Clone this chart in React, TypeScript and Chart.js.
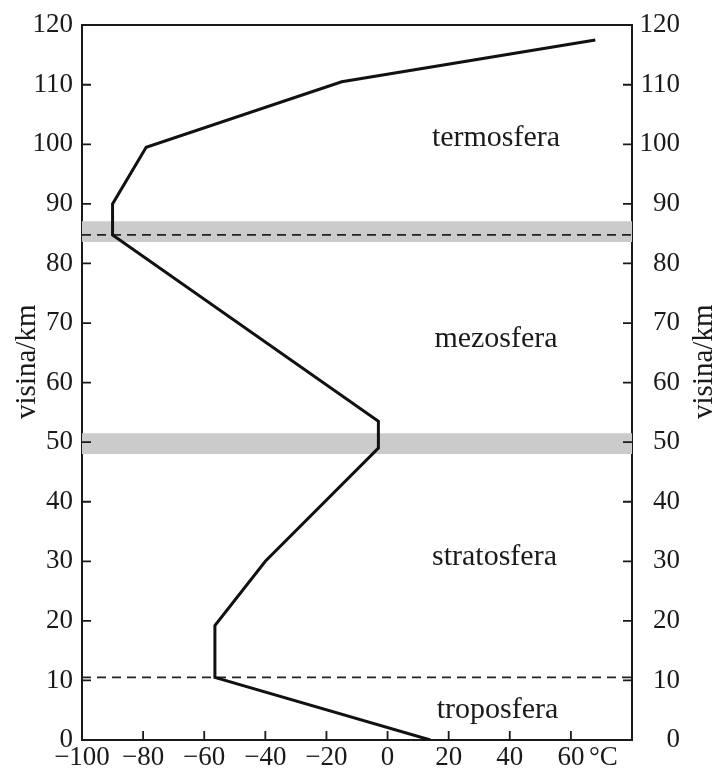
import React, { useEffect, useRef } from 'react';
import { Chart, registerables } from 'chart.js';

Chart.register(...registerables);

// Temperature profile of the atmosphere (°C vs km)
const temperature = [14, -56.5, -56.5, -40, -3, -3, -90, -90, -79, -15, 68];
const altitude = [0, 10.5, 19.2, 30, 49, 53.5, 84.8, 90, 99.5, 110.5, 117.5];

// Boundaries
const dashedAltitudes = [10.5, 84.8];
const bandLower = [48, 83.6];
const bandUpper = [51.5, 87.1];

// Axes
const xMin = -100;
const xMax = 80;
const yMin = 0;
const yMax = 120;
const xTicks = [-100, -80, -60, -40, -20, 0, 20, 40, 60, 80];
const yTicks = [0, 10, 20, 30, 40, 50, 60, 70, 80, 90, 100, 110, 120];
const xUnit = '°C';
const yTitle = 'visina/km';

// Layer names (anchor temperature, altitude)
const layerNames = ['termosfera', 'mezosfera', 'stratosfera', 'troposfera'];
const layerTemp = [35.5, 35.5, 35, 36];
const layerAlt = [99.8, 65.9, 29.3, 3.7];

const FONT = '"Liberation Serif", "Times New Roman", serif';
const INK = '#1a1a1a';
const TICK_SIZE = 27;

const fmt = (v: number) => (v < 0 ? '\u2212' + Math.abs(v) : String(v));

const decorPlugin = {
  id: 'decor',
  afterDraw(chart: any) {
    const { ctx, chartArea: a, scales } = chart;
    const xs = scales.x;
    const ys = scales.y;
    ctx.save();
    // inward tick marks
    ctx.strokeStyle = INK;
    ctx.lineWidth = 1.8;
    ctx.beginPath();
    yTicks.forEach((v) => {
      const py = ys.getPixelForValue(v);
      ctx.moveTo(a.left, py);
      ctx.lineTo(a.left + 9, py);
      ctx.moveTo(a.right, py);
      ctx.lineTo(a.right - 9, py);
    });
    xTicks.forEach((v) => {
      if (v === xMin || v === xMax) return;
      const px = xs.getPixelForValue(v);
      ctx.moveTo(px, a.bottom);
      ctx.lineTo(px, a.bottom - 9);
    });
    ctx.stroke();

    // layer names
    ctx.fillStyle = INK;
    ctx.font = `30px ${FONT}`;
    ctx.textAlign = 'center';
    ctx.textBaseline = 'alphabetic';
    layerNames.forEach((n, i) => {
      ctx.fillText(n, xs.getPixelForValue(layerTemp[i]), ys.getPixelForValue(layerAlt[i]));
    });

    // unit label next to 60
    ctx.font = `${TICK_SIZE}px ${FONT}`;
    ctx.textAlign = 'left';
    ctx.textBaseline = 'middle';
    ctx.fillText(xUnit, xs.getPixelForValue(60) + 18, xs.top + 2 + (TICK_SIZE * 1.2) / 2);

    // axis titles (both read bottom-to-top)
    const yc = ys.getPixelForValue(63.5);
    ctx.font = `29px ${FONT}`;
    ctx.textAlign = 'center';
    ctx.textBaseline = 'alphabetic';
    [35, 712].forEach((bx) => {
      ctx.save();
      ctx.translate(bx, yc);
      ctx.rotate(-Math.PI / 2);
      ctx.fillText(yTitle, 0, 0);
      ctx.restore();
    });
    ctx.restore();
  },
};

export default function App() {
  const ref = useRef<HTMLCanvasElement | null>(null);

  useEffect(() => {
    if (!ref.current) return;
    const curve = temperature.map((t, i) => ({ x: t, y: altitude[i] }));
    const datasets: any[] = [
      {
        data: curve,
        borderColor: '#111',
        borderWidth: 3,
        pointRadius: 0,
        tension: 0,
        fill: false,
        borderJoinStyle: 'miter',
      },
    ];
    dashedAltitudes.forEach((h) => {
      datasets.push({
        data: [
          { x: xMin, y: h },
          { x: xMax, y: h },
        ],
        borderColor: '#222',
        borderWidth: 1.8,
        borderDash: [9, 6],
        pointRadius: 0,
        fill: false,
      });
    });
    bandLower.forEach((lo, i) => {
      datasets.push({
        data: [
          { x: xMin, y: bandUpper[i] },
          { x: xMax, y: bandUpper[i] },
        ],
        borderWidth: 0,
        borderColor: 'rgba(0,0,0,0)',
        backgroundColor: '#cbcbcb',
        pointRadius: 0,
        fill: '+1',
      });
      datasets.push({
        data: [
          { x: xMin, y: lo },
          { x: xMax, y: lo },
        ],
        borderWidth: 0,
        borderColor: 'rgba(0,0,0,0)',
        pointRadius: 0,
        fill: false,
      });
    });

    const tickFont = { family: FONT, size: TICK_SIZE };
    const border = { display: true, color: INK, width: 2 };
    const noGrid = { display: false, drawTicks: false };

    const chart = new Chart(ref.current, {
      type: 'line',
      data: { datasets },
      plugins: [decorPlugin],
      options: {
        animation: false,
        responsive: false,
        layout: { padding: { left: 0, right: 34, top: 0, bottom: 0 } },
        plugins: {
          legend: { display: false },
          tooltip: { enabled: false },
        },
        scales: {
          x: {
            type: 'linear',
            position: 'bottom',
            min: xMin,
            max: xMax,
            grid: noGrid,
            border,
            afterBuildTicks: (s: any) => {
              s.ticks = xTicks.map((v) => ({ value: v }));
            },
            afterFit: (s: any) => {
              s.height = 30;
            },
            ticks: {
              font: tickFont,
              color: INK,
              padding: 2,
              autoSkip: false,
              maxRotation: 0,
              minRotation: 0,
              callback: (v: any) => (Number(v) === xMax ? '' : fmt(Number(v))),
            },
          },
          xTop: {
            type: 'linear',
            position: 'top',
            min: xMin,
            max: xMax,
            grid: noGrid,
            border,
            ticks: { display: false },
            afterFit: (s: any) => {
              s.height = 22;
            },
          },
          y: {
            type: 'linear',
            position: 'left',
            min: yMin,
            max: yMax,
            grid: noGrid,
            border,
            afterBuildTicks: (s: any) => {
              s.ticks = yTicks.map((v) => ({ value: v }));
            },
            afterFit: (s: any) => {
              s.width = 82;
            },
            ticks: { font: tickFont, color: INK, padding: 9, autoSkip: false },
          },
          y2: {
            type: 'linear',
            position: 'right',
            min: yMin,
            max: yMax,
            grid: noGrid,
            border,
            afterBuildTicks: (s: any) => {
              s.ticks = yTicks.map((v) => ({ value: v }));
            },
            afterFit: (s: any) => {
              s.width = 48;
            },
            ticks: { font: tickFont, color: INK, crossAlign: 'far', autoSkip: false },
          },
        },
      } as any,
    });
    return () => chart.destroy();
  }, []);

  return (
    <div style={{ position: 'fixed', left: 0, top: 0, width: 714, height: 770, background: '#fff' }}>
      <canvas ref={ref} width={714} height={770} />
    </div>
  );
}
